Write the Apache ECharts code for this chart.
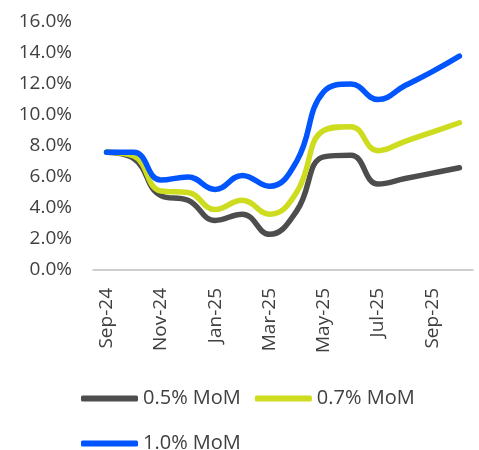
<!DOCTYPE html>
<html>
<head>
<meta charset="utf-8">
<script src="https://cdn.jsdelivr.net/npm/echarts@6/dist/echarts.min.js"></script>
<style>
  html, body { margin: 0; padding: 0; background: #fff; }
  #chart { width: 479px; height: 450px; }
</style>
</head>
<body>
<div id="chart"></div>
<script>
const months = ["Sep-24", "Oct-24", "Nov-24", "Dec-24", "Jan-25", "Feb-25", "Mar-25",
  "Apr-25", "May-25", "Jun-25", "Jul-25", "Aug-25", "Sep-25", "Oct-25"];
const seriesNames = ["0.5% MoM", "0.7% MoM", "1.0% MoM"];
const mom05 = [7.6, 7.2, 4.8, 4.5, 3.2, 3.6, 2.3, 3.8, 7.3, 7.4, 5.55, 5.9, 6.25, 6.6];
const mom07 = [7.6, 7.35, 5.1, 5.0, 3.9, 4.5, 3.6, 5.0, 9.0, 9.25, 7.7, 8.3, 8.9, 9.5];
const mom10 = [7.6, 7.6, 5.8, 6.0, 5.2, 6.1, 5.4, 7.0, 11.5, 12.0, 11.0, 11.9, 12.8, 13.8];
const colors = ["#4d4d4d", "#cddc1f", "#0055ff"];

const font = "'Open Sans', 'Noto Sans', sans-serif";
let myChart = echarts.init(document.getElementById("chart"));

let makeLine = (name, data, color) => ({
  name: name,
  type: "line",
  data: data,
  smooth: 0.45,
  showSymbol: false,
  symbol: "none",
  lineStyle: { width: 5.5, color: color, cap: "round", join: "round" },
  itemStyle: { color: color }
});

let option = {
  animation: false,
  textStyle: { fontFamily: font },
  grid: { left: 93, right: 6, top: 22, bottom: 180 },
  xAxis: {
    type: "category",
    data: months,
    boundaryGap: true,
    axisLine: { lineStyle: { color: "#bfbfbf", width: 1.5 } },
    axisTick: { show: false },
    axisLabel: {
      interval: 1,
      rotate: 90,
      margin: 18,
      fontSize: 19,
      color: "#404040",
      fontFamily: font
    }
  },
  yAxis: {
    type: "value",
    min: 0,
    max: 16,
    interval: 2,
    splitLine: { show: false },
    axisLine: { show: false },
    axisTick: { show: false },
    axisLabel: {
      margin: 21,
      fontSize: 19,
      color: "#404040",
      fontFamily: font,
      formatter: v => v.toFixed(1) + "%"
    }
  },
  legend: {
    data: seriesNames,
    left: 76,
    top: 378,
    width: 390,
    icon: "roundRect",
    itemWidth: 57,
    itemHeight: 6,
    itemGap: 14,
    textStyle: { fontSize: 20, color: "#404040", fontFamily: font, lineHeight: 31 }
  },
  series: [
    makeLine(seriesNames[0], mom05, colors[0]),
    makeLine(seriesNames[1], mom07, colors[1]),
    makeLine(seriesNames[2], mom10, colors[2])
  ]
};
myChart.setOption(option);
</script>
</body>
</html>
